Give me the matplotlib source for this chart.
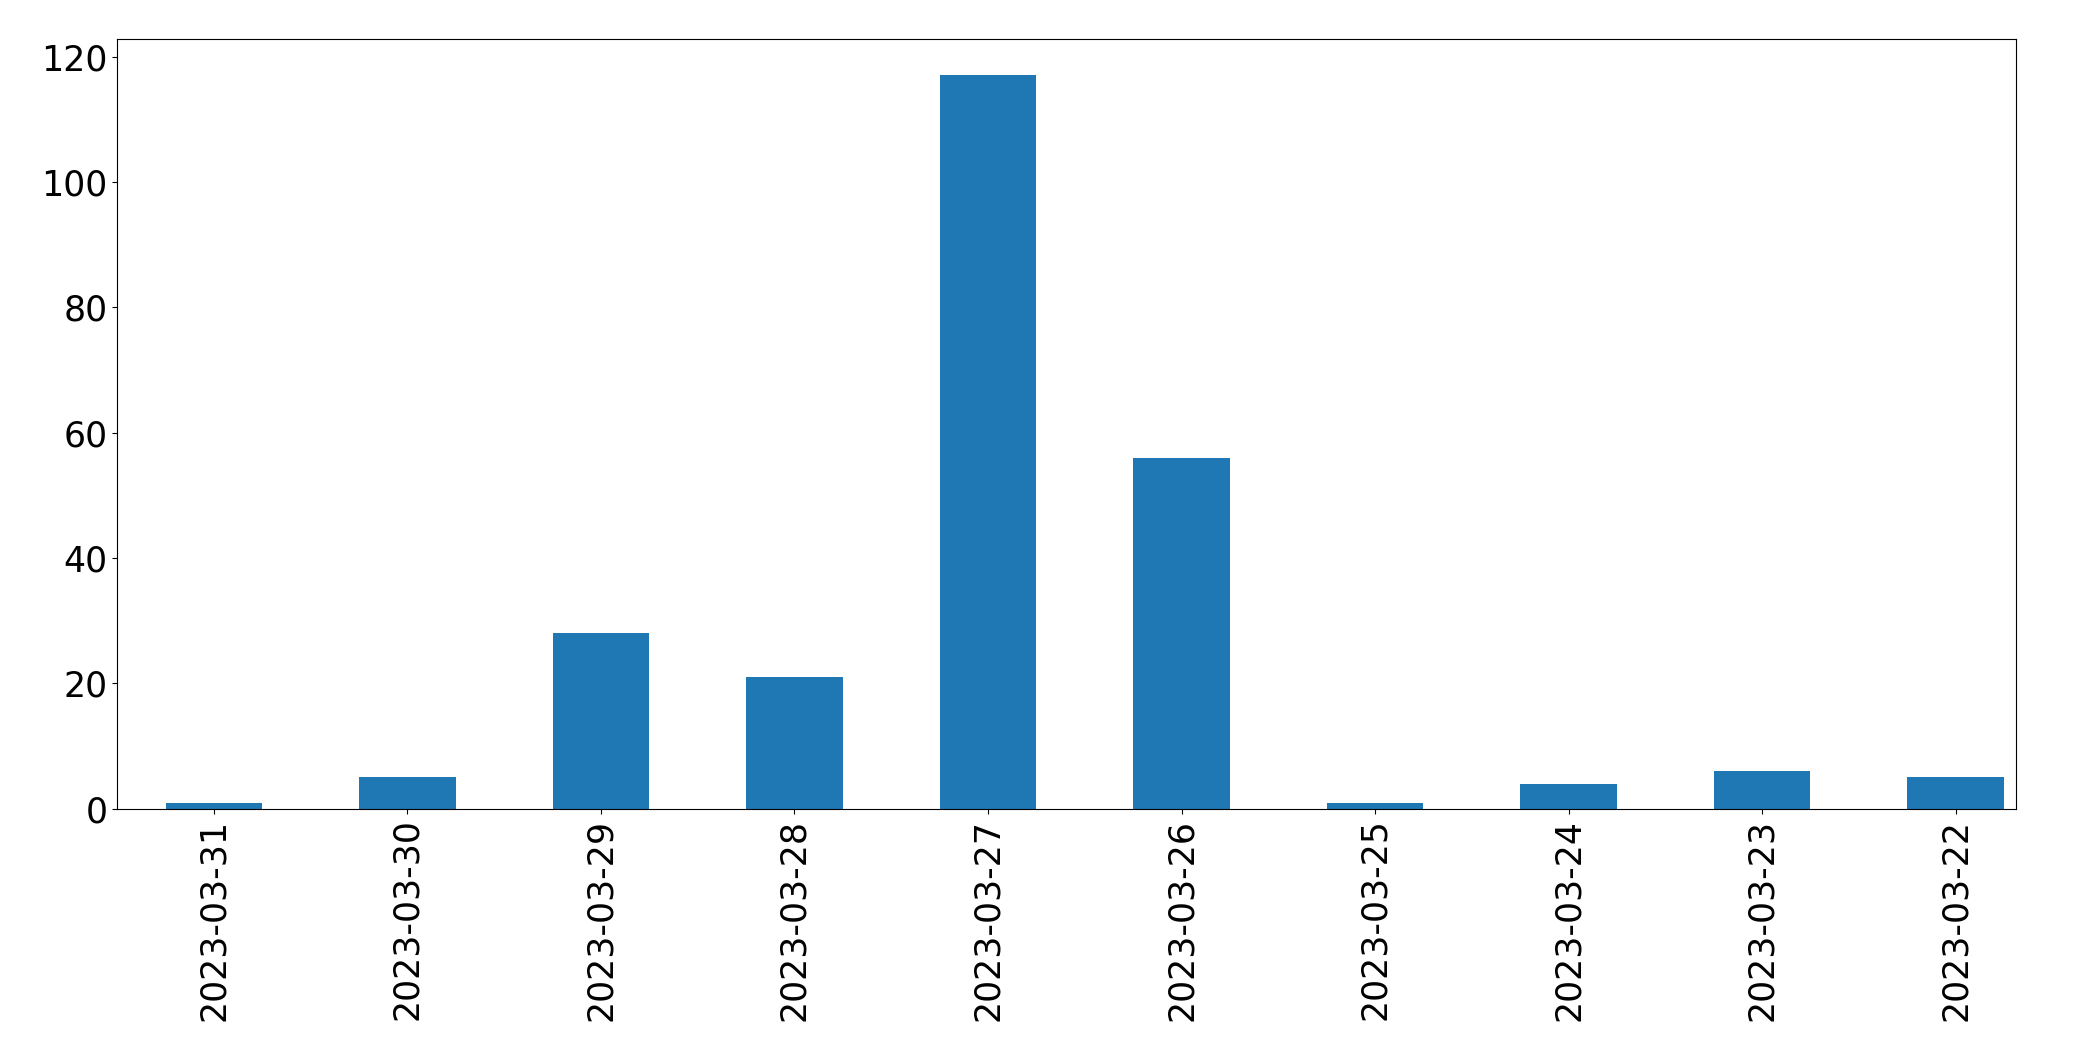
import matplotlib
matplotlib.use("Agg")
import matplotlib.pyplot as plt

dates = ['2023-03-31', '2023-03-30', '2023-03-29', '2023-03-28', '2023-03-27',
         '2023-03-26', '2023-03-25', '2023-03-24', '2023-03-23', '2023-03-22']
counts = [1, 5, 28, 21, 117, 56, 1, 4, 6, 5]

fig, ax = plt.subplots(figsize=(20.93, 10.61), dpi=100)
pos = list(range(len(dates)))
ax.bar(pos, counts, width=0.5, color='#1f77b4')
ax.set_xticks(pos)
ax.set_xticklabels(dates, rotation=90)
ax.set_xlim(-0.5, len(dates) - 0.69)
ax.tick_params(labelsize=25)

plt.subplots_adjust(left=0.056, right=0.963, top=0.9635, bottom=0.2377)
plt.savefig('out.png', dpi=100)
